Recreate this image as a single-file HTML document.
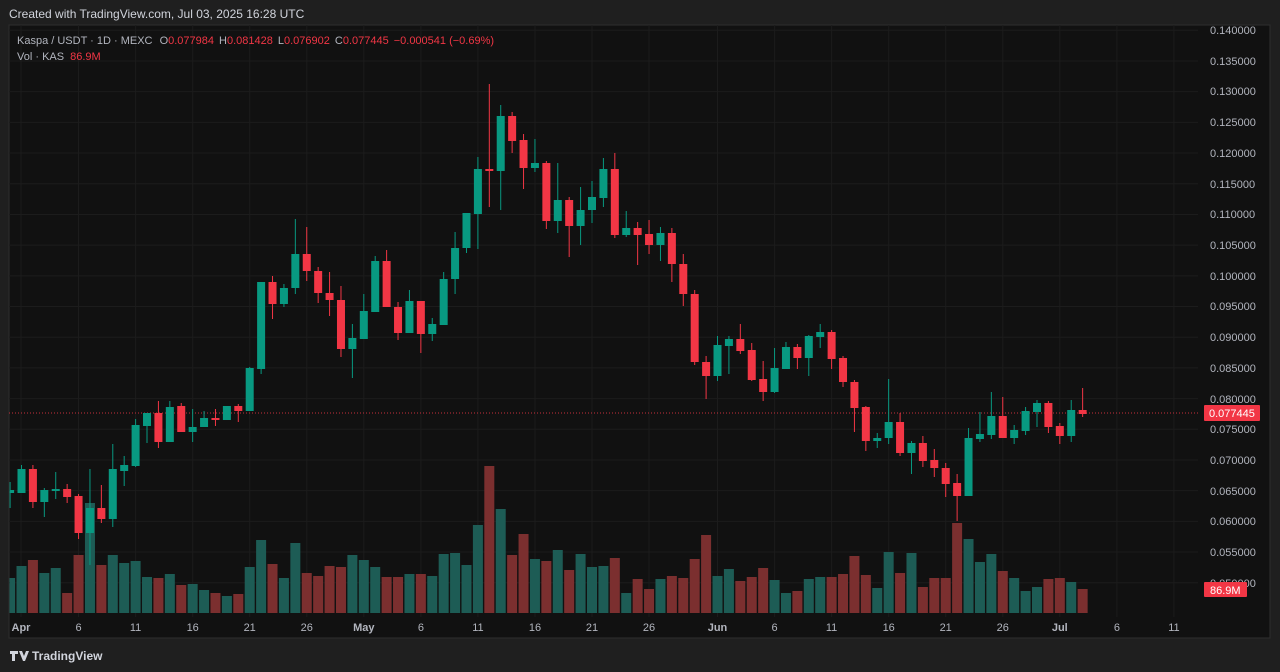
<!DOCTYPE html>
<html><head><meta charset="utf-8"><style>
html,body{margin:0;padding:0;background:#1f1f1f;width:1280px;height:672px;overflow:hidden;font-family:"Liberation Sans",sans-serif;}
svg{position:absolute;left:0;top:0}
</style></head><body>
<svg id="s" width="1280" height="672" xmlns="http://www.w3.org/2000/svg" font-family="Liberation Sans, sans-serif">
<rect x="0" y="0" width="1280" height="672" fill="#1f1f1f"/>
<rect x="9" y="25" width="1261" height="613" fill="#111111" stroke="#2e2e2e" stroke-width="1"/>
<g id="grid"></g>
<g id="vol"></g>
<line x1="9" y1="413" x2="1198" y2="413" stroke="#f23645" stroke-width="1" stroke-dasharray="1,2" opacity="0.8"/>
<g id="candles"></g>
<g font-size="11" fill="#b2b5be" id="plabels">
<text x="1210" y="34">0.140000</text><text x="1210" y="65">0.135000</text><text x="1210" y="95">0.130000</text><text x="1210" y="126">0.125000</text><text x="1210" y="157">0.120000</text><text x="1210" y="188">0.115000</text><text x="1210" y="218">0.110000</text><text x="1210" y="249">0.105000</text><text x="1210" y="280">0.100000</text><text x="1210" y="310">0.095000</text><text x="1210" y="341">0.090000</text><text x="1210" y="372">0.085000</text><text x="1210" y="403">0.080000</text><text x="1210" y="433">0.075000</text><text x="1210" y="464">0.070000</text><text x="1210" y="495">0.065000</text><text x="1210" y="525">0.060000</text><text x="1210" y="556">0.055000</text><text x="1210" y="587">0.050000</text>
</g>
<rect x="1204" y="405" width="56" height="16" rx="1" fill="#f23645"/>
<text x="1209" y="417" font-size="11" fill="#fff">0.077445</text>
<rect x="1204" y="582" width="43" height="15" rx="1" fill="#f23645"/>
<text x="1210" y="594" font-size="11" fill="#fff">86.9M</text>
<g font-size="11" fill="#b2b5be" text-anchor="middle">
<text x="21" y="631" font-weight="bold">Apr</text><text x="78.5" y="631">6</text><text x="135.6" y="631">11</text><text x="192.7" y="631">16</text><text x="249.7" y="631">21</text><text x="306.8" y="631">26</text><text x="363.8" y="631" font-weight="bold">May</text><text x="420.9" y="631">6</text><text x="477.9" y="631">11</text><text x="535" y="631">16</text><text x="592" y="631">21</text><text x="649" y="631">26</text><text x="717.5" y="631" font-weight="bold">Jun</text><text x="774.6" y="631">6</text><text x="831.6" y="631">11</text><text x="888.7" y="631">16</text><text x="945.7" y="631">21</text><text x="1002.8" y="631">26</text><text x="1059.8" y="631" font-weight="bold">Jul</text><text x="1116.9" y="631">6</text><text x="1173.9" y="631">11</text>
</g>
<text x="9" y="18" font-size="12" fill="#d1d4dc">Created with TradingView.com, Jul 03, 2025 16:28 UTC</text>
<text x="17" y="44" font-size="11" fill="#b2b5be">Kaspa / USDT · 1D · MEXC <tspan dx="4">O</tspan><tspan fill="#f23645">0.077984</tspan><tspan dx="5">H</tspan><tspan fill="#f23645">0.081428</tspan><tspan dx="5">L</tspan><tspan fill="#f23645">0.076902</tspan><tspan dx="5">C</tspan><tspan fill="#f23645">0.077445</tspan><tspan dx="5" fill="#f23645">−0.000541 (−0.69%)</tspan></text>
<text x="17" y="60" font-size="11" fill="#b2b5be">Vol · KAS <tspan dx="3" fill="#f23645">86.9M</tspan></text>
<path d="M10 651h8v3h-3v7h-3v-7h-2z M19 651h3l2 5 2-5h3l-4 10h-2z" fill="#d1d4dc"/>
<text x="32" y="660" font-size="12" font-weight="bold" fill="#d1d4dc">TradingView</text>
</svg>
<script>
var C=[
[-1,'g',493,490,482,508],[0,'g',493,469,465,493],[1,'r',469,502,465,508],[2,'g',502,490,488,517],[3,'g',490,489,472,499],[4,'r',489,497,484,503],[5,'r',496,533,494,539],[6,'g',533,508,469,565],[7,'r',508,519,485,523],[8,'g',519,469,444,527],[9,'g',471,465,456,486],[10,'g',466,425,419,467],[11,'g',426,413,413,443],[12,'r',413,442,401,448],[13,'g',442,407,401,442],[14,'r',406,432,403,432],[15,'g',432,427,409,442],[16,'g',427,418,411,427],[17,'r',418,419,409,426],[18,'g',420,406,406,420],[19,'r',406,411,404,422],[20,'g',411,368,367,411],[21,'g',369,282,282,374],[22,'r',282,304,276,319],[23,'g',304,288,284,307],[24,'g',288,254,219,294],[25,'r',254,271,227,281],[26,'r',271,293,267,303],[27,'r',293,300,272,316],[28,'r',300,349,286,357],[29,'g',349,338,324,378],[30,'g',339,311,294,339],[31,'g',312,261,256,312],[32,'r',261,307,250,307],[33,'r',307,333,302,340],[34,'g',333,301,290,333],[35,'r',301,334,301,353],[36,'g',334,324,318,341],[37,'g',325,279,272,325],[38,'g',279,248,232,294],[39,'g',248,213,213,253],[40,'g',214,169,157,249],[41,'r',169,171,84,207],[42,'g',171,116,105,210],[43,'r',116,141,112,153],[44,'r',140,168,134,189],[45,'g',168,163,139,172],[46,'r',163,221,161,229],[47,'g',221,200,163,233],[48,'r',200,226,197,257],[49,'g',226,210,187,245],[50,'g',210,197,181,223],[51,'g',198,169,158,207],[52,'r',169,235,153,238],[53,'g',235,228,211,237],[54,'r',228,235,222,265],[55,'r',234,245,220,254],[56,'g',245,233,227,261],[57,'r',233,264,228,282],[58,'r',264,294,254,306],[59,'r',294,362,290,365],[60,'r',362,376,356,399],[61,'g',376,345,336,381],[62,'g',346,339,336,374],[63,'r',339,351,324,354],[64,'r',350,380,343,381],[65,'r',379,392,361,401],[66,'g',392,368,348,393],[67,'g',369,347,342,369],[68,'r',347,358,344,369],[69,'g',358,336,335,376],[70,'g',337,332,324,348],[71,'r',332,359,330,369],[72,'r',358,382,356,387],[73,'r',382,408,380,432],[74,'r',407,441,406,451],[75,'g',441,438,433,448],[76,'g',438,422,379,444],[77,'r',422,453,413,456],[78,'g',453,443,441,474],[79,'r',443,461,436,467],[80,'r',460,468,449,477],[81,'r',468,484,463,497],[82,'r',483,496,474,521],[83,'g',496,438,428,496],[84,'g',439,434,412,442],[85,'g',435,416,392,439],[86,'r',416,438,397,438],[87,'g',438,430,425,444],[88,'g',431,411,407,435],[89,'g',412,403,400,427],[90,'r',403,427,401,433],[91,'r',426,436,423,444],[92,'g',436,410,400,442],[93,'r',410,414,388,417]];
var V=[578,566,560,573,568,593,555,503,565,555,563,561,577,578,574,585,584,590,593,596,594,567,540,564,578,543,573,576,566,567,555,560,567,577,577,574,574,576,554,553,565,525,466,509,555,534,559,561,550,570,554,567,566,558,593,579,589,579,576,578,559,535,576,569,581,577,568,580,593,591,579,577,577,574,556,575,588,552,573,553,587,578,578,523,539,562,554,571,578,591,587,579,578,582,589];
var NS='http://www.w3.org/2000/svg';
function el(p,t,a){var e=document.createElementNS(NS,t);for(var k in a)e.setAttribute(k,a[k]);p.appendChild(e);return e;}
var g=document.getElementById('grid');
for(var k=0;k<19;k++){var y=30.3+k*30.69;el(g,'line',{x1:9,x2:1198,y1:y,y2:y,stroke:'#1c1c1c','stroke-width':1});}
[21,78.5,135.6,192.7,249.7,306.8,363.8,420.9,477.9,535,592,649,717.5,774.6,831.6,888.7,945.7,1002.8,1059.8,1116.9,1173.9].forEach(function(x){el(g,'line',{x1:x,x2:x,y1:25,y2:617,stroke:'#1c1c1c','stroke-width':1});});
var vg=document.getElementById('vol'),cg=document.getElementById('candles');
function X(i){return 21.5+i*11.41;}
for(var j=0;j<C.length;j++){var c=C[j],x=X(c[0]),col=c[1]=='g'?'#089981':'#f23645',vc=c[1]=='g'?'#1d5c55':'#7b2f2f';
var vt=V[j],x0=Math.max(9.5,x-5);el(vg,'rect',{x:x0,y:vt,width:x+5-x0,height:613-vt,fill:vc});
el(cg,'line',{x1:x,x2:x,y1:c[4],y2:c[5],stroke:col,'stroke-width':1});
var t=Math.min(c[2],c[3]),b=Math.max(c[2],c[3]);if(b-t<2){b=t+2;}
var bx=Math.max(9.5,x-4);el(cg,'rect',{x:bx,y:t,width:x+4-bx,height:b-t,fill:col});}
</script>
</body></html>
